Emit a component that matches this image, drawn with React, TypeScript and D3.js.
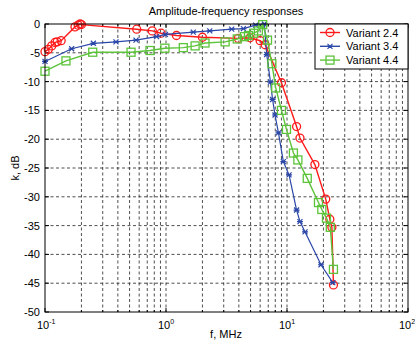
import React from "react";
import * as d3 from "d3";

const redF = [0.1, 0.1065, 0.1136, 0.121, 0.126, 0.136, 0.177, 0.188, 0.195, 0.2, 0.573, 0.77, 0.91, 1.22, 2.0, 3.96, 4.94, 6.0, 6.6, 9.0, 12.0, 12.8, 17.0, 20.9, 22.6, 23.5, 24.2];
const redK = [-4.8, -4.4, -3.8, -3.2, -3.1, -2.9, -0.5, -0.2, 0, -0.1, -0.9, -1.2, -1.6, -2.0, -2.3, -2.5, -2.4, -2.9, -3.6, -10.2, -17.8, -19.8, -24.4, -30.4, -33.9, -35.3, -45.3];

const blueF = [0.1, 0.166, 0.251, 0.386, 0.565, 0.836, 0.99, 1.68, 2.3, 3.49, 4.36, 5.5, 6.5, 6.8, 7.3, 7.6, 7.96, 8.5, 9.33, 10.4, 12.0, 12.8, 14.1, 19.1, 23.9];
const blueK = [-6.5, -4.3, -3.35, -3.1, -2.8, -2.2, -1.8, -1.4, -1.2, -0.9, -0.8, -0.2, 0, -5.3, -10.1, -13.1, -15.8, -18.9, -23.9, -26.2, -32.3, -34.3, -36.1, -41.8, -44.9];

const greenF = [0.1, 0.149, 0.248, 0.514, 0.737, 0.98, 1.39, 1.74, 2.1, 3.08, 3.88, 4.44, 4.8, 5.3, 5.8, 6.3, 6.9, 7.5, 8.07, 9.0, 9.9, 11.3, 12.3, 14.7, 18.2, 19.4, 21.2, 22.8, 24.2];
const greenK = [-8.2, -6.4, -4.9, -4.9, -4.6, -4.2, -4.1, -3.8, -3.3, -3.1, -2.6, -2.2, -2.0, -1.6, -1.2, -0.1, -2.8, -6.9, -11.1, -15.0, -18.3, -22.4, -23.6, -26.8, -31.0, -32.2, -33.7, -35.3, -42.6];

const yTicks = [0, -5, -10, -15, -20, -25, -30, -35, -40, -45, -50];
const xMajor = [0.1, 1, 10, 100];
const xMajorExp = ["-1", "0", "1", "2"];
const seriesNames = ["Variant 2.4", "Variant 3.4", "Variant 4.4"];

const RED = "#ff1a1a";
const BLUE = "#2b47a8";
const GREEN = "#5cc43a";
const FONT = "'Liberation Sans', Arial, sans-serif";

const L = 45, R = 408, T = 24, B = 312;

export default function App() {
  const x = d3.scaleLog().domain([0.1, 100]).range([L, R]);
  const y = d3.scaleLinear().domain([-50, 0]).range([B, T]);

  const minor: number[] = [];
  for (let d = 0.1; d < 100; d *= 10) for (let k = 2; k <= 9; k++) minor.push(d * k);

  const line = d3.line<[number, number]>().x(d => x(d[0])).y(d => y(d[1]));
  const zip = (a: number[], b: number[]) => a.map((v, i) => [v, b[i]] as [number, number]);
  const red = zip(redF, redK);
  const blue = zip(blueF, blueK);
  const green = zip(greenF, greenK);

  const circle = (cx: number, cy: number, key: any) => (
    <circle key={key} cx={cx} cy={cy} r={4} fill="none" stroke={RED} strokeWidth={1.3} />
  );
  const star = (cx: number, cy: number, key: any) => (
    <path key={key} d={`M${cx - 2.5},${cy - 2.5}L${cx + 2.5},${cy + 2.5}M${cx - 2.5},${cy + 2.5}L${cx + 2.5},${cy - 2.5}M${cx - 3},${cy}L${cx + 3},${cy}`} stroke={BLUE} strokeWidth={1.2} />
  );
  const square = (cx: number, cy: number, key: any) => (
    <rect key={key} x={cx - 4} y={cy - 4} width={8} height={8} fill="none" stroke={GREEN} strokeWidth={1.3} />
  );

  const grid = { stroke: "#222", strokeWidth: 0.8, strokeDasharray: "3,2.5" };

  const legendRows = [
    { name: seriesNames[0], color: RED, m: circle },
    { name: seriesNames[1], color: BLUE, m: star },
    { name: seriesNames[2], color: GREEN, m: square },
  ];

  return (
    <svg width={415} height={345} style={{ position: "absolute", left: 0, top: 0, background: "#fff" }} fontFamily={FONT}>
      <rect x={0} y={0} width={415} height={345} fill="#fff" />
      {/* grid */}
      {yTicks.filter(t => t !== 0 && t !== -50).map(t => (
        <line key={"gy" + t} x1={L} x2={R} y1={y(t)} y2={y(t)} {...grid} />
      ))}
      {minor.concat([1, 10]).map((v, i) => (
        <line key={"gx" + i} x1={x(v)} x2={x(v)} y1={T} y2={B} {...grid} />
      ))}
      {/* ticks */}
      {yTicks.map(t => (
        <g key={"ty" + t}>
          <line x1={L} x2={L + 4} y1={y(t)} y2={y(t)} stroke="#000" />
          <line x1={R} x2={R - 4} y1={y(t)} y2={y(t)} stroke="#000" />
          <text x={L - 5} y={y(t) + 4} textAnchor="end" fontSize={11}>{t}</text>
        </g>
      ))}
      {minor.map((v, i) => (
        <g key={"tm" + i}>
          <line x1={x(v)} x2={x(v)} y1={B} y2={B - 2} stroke="#000" />
          <line x1={x(v)} x2={x(v)} y1={T} y2={T + 2} stroke="#000" />
        </g>
      ))}
      {xMajor.map((v, i) => (
        <g key={"tx" + i}>
          <line x1={x(v)} x2={x(v)} y1={B} y2={B - 4} stroke="#000" />
          <line x1={x(v)} x2={x(v)} y1={T} y2={T + 4} stroke="#000" />
          <text x={x(v) - (i === 3 ? 9 : 8)} y={B + 17} fontSize={11}>
            10<tspan dy={-5} fontSize={7}>{xMajorExp[i]}</tspan>
          </text>
        </g>
      ))}
      {/* series */}
      <path d={line(red) || ""} fill="none" stroke={RED} strokeWidth={1.4} />
      {red.map((d, i) => circle(x(d[0]), y(d[1]), "r" + i))}
      <path d={line(blue) || ""} fill="none" stroke={BLUE} strokeWidth={1.2} />
      {blue.map((d, i) => star(x(d[0]), y(d[1]), "b" + i))}
      <path d={line(green) || ""} fill="none" stroke={GREEN} strokeWidth={1.4} />
      {green.map((d, i) => square(x(d[0]), y(d[1]), "g" + i))}
      {/* axes box */}
      <rect x={L} y={T} width={R - L} height={B - T} fill="none" stroke="#000" strokeWidth={1} />
      {/* legend */}
      <rect x={315} y={T} width={R - 315} height={45} fill="#fff" stroke="#000" strokeWidth={1} />
      {legendRows.map((row, i) => {
        const ly = 32.5 + i * 13.8;
        return (
          <g key={"lg" + i}>
            <line x1={320} x2={340} y1={ly} y2={ly} stroke={row.color} strokeWidth={1.4} />
            {row.m(330, ly, "lm" + i)}
            <text x={346} y={ly + 4} fontSize={11}>{row.name}</text>
          </g>
        );
      })}
      {/* titles */}
      <text x={226} y={15} textAnchor="middle" fontSize={11}>Amplitude-frequency responses</text>
      <text x={226} y={338} textAnchor="middle" fontSize={11}>f, MHz</text>
      <text transform={`translate(19,${(T + B) / 2}) rotate(-90)`} textAnchor="middle" fontSize={11}>k, dB</text>
    </svg>
  );
}
